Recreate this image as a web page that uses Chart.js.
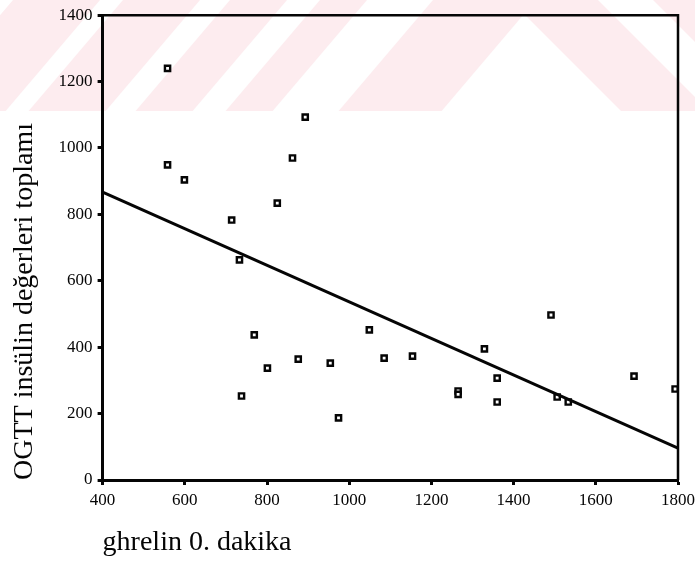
<!DOCTYPE html>
<html>
<head>
<meta charset="utf-8">
<script src="https://cdn.jsdelivr.net/npm/chart.js@4"></script>
<style>
  html, body { margin: 0; padding: 0; background: #fff; }
  #wrap { width: 695px; height: 576px; position: relative; }
</style>
</head>
<body>
<div id="wrap"><canvas id="chart"></canvas></div>
<script>
// ghrelin 0. dakika (x) ve OGTT insülin toplamı (y)
const ghrelin = [558, 558, 599, 714, 733, 825, 862, 893, 769, 738, 801, 876, 954, 974,
  1049, 1085, 1154, 1265, 1265, 1329, 1360, 1360, 1491, 1506, 1533, 1693, 1793];
const insulin = [1240, 949, 904, 783, 663, 834, 970, 1093, 437, 253, 337, 364, 352, 187,
  452, 367, 373, 268, 258, 395, 307, 235, 497, 250, 235, 313, 274];

// regresyon doğrusu uç noktaları
const lineX = [400, 1800];
const lineY = [867, 96];

const xTicks = [400, 600, 800, 1000, 1200, 1400, 1600, 1800];
const yTicks = [0, 200, 400, 600, 800, 1000, 1200, 1400];

const serif = "'Liberation Serif', 'DejaVu Serif', serif";
const ink = '#050505';

const points = ghrelin.map((x, i) => ({ x, y: insulin[i] }));
const fitLine = lineX.map((x, i) => ({ x, y: lineY[i] }));

// soluk pembe filigran şeridi (taranmış sayfadaki damga)
const watermark = {
  id: 'watermark',
  beforeDraw(chart) {
    const c = chart.ctx;
    const h = 111;
    const s = 0.85;
    c.save();
    c.fillStyle = '#fdecef';
    c.fillRect(0, 0, chart.width, h);
    c.fillStyle = '#ffffff';
    const poly = pts => {
      c.beginPath();
      pts.forEach(([x, y], i) => (i ? c.lineTo(x, y) : c.moveTo(x, y)));
      c.closePath();
      c.fill();
    };
    [[-20, 13], [100, 123], [200, 230], [287, 320], [367, 433]].forEach(([a, b]) => {
      poly([[a, 0], [b, 0], [b - s * h, h], [a - s * h, h]]);
    });
    // tepe noktası ~ (524, 14) olan beyaz üçgen
    poly([[524, 14], [510 + h, h], [536 - s * h, h]]);
    poly([[598, 0], [653, 0], [653 + h, h], [598 + h, h]]);
    c.restore();
  }
};

// üst ve sağ çerçeve
const frame = {
  id: 'frame',
  afterDraw(chart) {
    const { left, right, top, bottom } = chart.chartArea;
    const c = chart.ctx;
    c.save();
    c.strokeStyle = ink;
    c.lineWidth = 2.5;
    c.beginPath();
    c.moveTo(left, top); c.lineTo(right, top); c.lineTo(right, bottom);
    c.stroke();
    c.restore();
  }
};

new Chart(document.getElementById('chart'), {
  type: 'scatter',
  data: {
    datasets: [
      {
        type: 'line',
        data: fitLine,
        borderColor: ink,
        borderWidth: 3,
        pointRadius: 0,
        fill: false
      },
      {
        data: points,
        pointStyle: 'rect',
        pointRadius: 3.7,
        borderWidth: 2.4,
        borderColor: ink,
        backgroundColor: '#fff'
      }
    ]
  },
  options: {
    responsive: true,
    maintainAspectRatio: false,
    animation: false,
    layout: { padding: { top: 6, left: 8, right: 0, bottom: 17 } },
    plugins: {
      legend: { display: false },
      tooltip: { enabled: false }
    },
    scales: {
      x: {
        type: 'linear',
        min: 400,
        max: 1800,
        afterBuildTicks: axis => { axis.ticks = xTicks.map(v => ({ value: v })); },
        afterFit: axis => { axis.paddingRight = 17; },
        ticks: {
          color: ink,
          font: { family: serif, size: 17 },
          padding: 5,
          maxRotation: 0,
          callback: v => String(v)
        },
        grid: { drawOnChartArea: false, tickLength: 5, tickWidth: 3, color: ink },
        border: { color: ink, width: 3 },
        title: {
          display: true,
          text: 'ghrelin 0. dakika',
          align: 'start',
          color: ink,
          font: { family: serif, size: 28 },
          padding: { top: 10, bottom: 0 }
        }
      },
      y: {
        min: 0,
        max: 1400,
        afterBuildTicks: axis => { axis.ticks = yTicks.map(v => ({ value: v })); },
        ticks: {
          color: ink,
          font: { family: serif, size: 17 },
          padding: 5,
          callback: v => String(v)
        },
        grid: { drawOnChartArea: false, tickLength: 5, tickWidth: 3, color: ink },
        border: { color: ink, width: 3 },
        title: {
          display: true,
          text: 'OGTT insülin değerleri toplamı',
          align: 'start',
          color: ink,
          font: { family: serif, size: 28 },
          padding: { top: 0, bottom: 12 }
        }
      }
    }
  },
  plugins: [watermark, frame]
});
</script>
</body>
</html>
